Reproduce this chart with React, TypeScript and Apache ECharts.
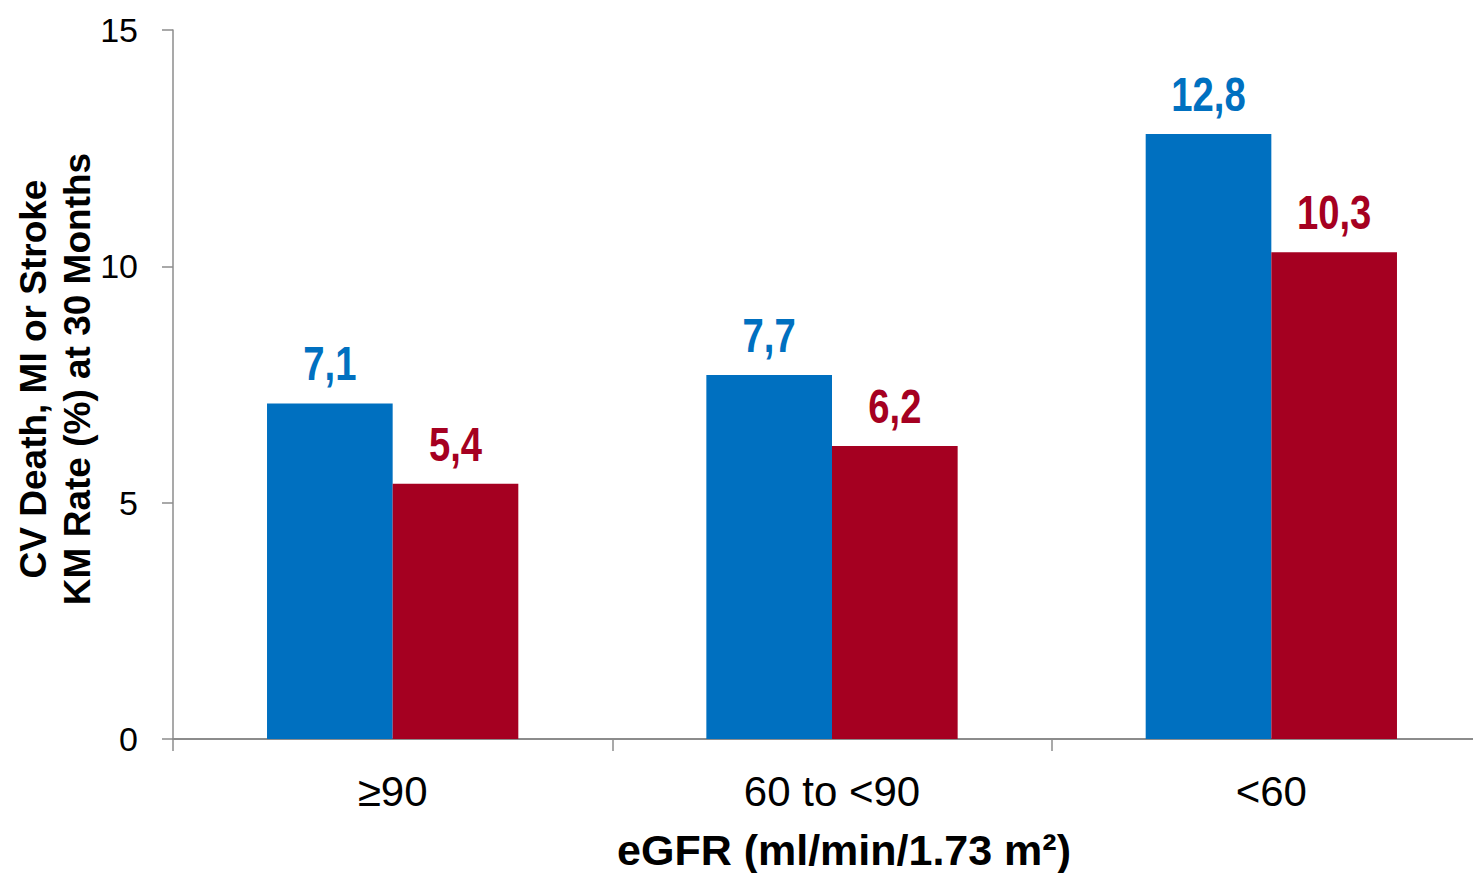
import React, { useEffect, useRef } from "react";
import * as echarts from "echarts";

const categories = ["≥90", "60 to <90", "<60"];
const seriesBlue = [7.1, 7.7, 12.8];
const seriesRed = [5.4, 6.2, 10.3];
const yTicks = [0, 5, 10, 15];
const xAxisTitle = "eGFR (ml/min/1.73 m²)";
const yAxisTitleLines = ["CV Death, MI or Stroke", "KM Rate (%) at 30 Months"];

const BLUE = "#0070C0";
const RED = "#A50021";
const AXIS = "#8c8c8c";
const FONT = "'Liberation Sans', Arial, sans-serif";
const BAR_FRAC = 0.286;

const fmt = (v: number) => v.toFixed(1).replace(".", ",");

function labelSeries(values: number[], color: string, side: number) {
  return {
    type: "custom",
    silent: true,
    z: 5,
    data: values.map((v, i) => [i, v]),
    renderItem: (_params: any, api: any) => {
      const idx = api.value(0);
      const val = api.value(1);
      const pt = api.coord([idx, val]);
      const catW = api.size([1, 0])[0];
      const off = (side * BAR_FRAC * catW) / 2;
      return {
        type: "text",
        x: pt[0] + off,
        y: pt[1] - 16,
        scaleX: 0.78,
        style: {
          text: fmt(val),
          fill: color,
          font: `bold 49px ${FONT}`,
          textAlign: "center",
          textVerticalAlign: "bottom",
        },
      };
    },
  };
}

export default function App() {
  const ref = useRef<HTMLDivElement>(null);
  useEffect(() => {
    if (!ref.current) return;
    const chart = echarts.init(ref.current, undefined, { renderer: "svg" });
    chart.setOption({
      animation: false,
      backgroundColor: "#ffffff",
      grid: {
        left: 173,
        top: 30,
        width: 1318,
        bottom: 134,
        containLabel: false,
        outerBoundsMode: "none",
      },
      xAxis: {
        type: "category",
        data: categories,
        axisLine: { show: true, lineStyle: { color: AXIS, width: 2 } },
        axisTick: { show: true, length: 12, lineStyle: { color: AXIS, width: 1.5 } },
        axisLabel: { color: "#000", fontFamily: FONT, fontSize: 42, margin: 31 },
      },
      yAxis: {
        type: "value",
        min: yTicks[0],
        max: yTicks[yTicks.length - 1],
        interval: 5,
        splitLine: { show: false },
        axisLine: { show: true, lineStyle: { color: AXIS, width: 1.5 } },
        axisTick: { show: true, length: 11, lineStyle: { color: AXIS, width: 1.5 } },
        axisLabel: { color: "#000", fontFamily: FONT, fontSize: 34, margin: 35 },
      },
      series: [
        {
          type: "bar",
          data: seriesBlue,
          barWidth: BAR_FRAC * 100 + "%",
          barGap: "0%",
          itemStyle: { color: BLUE },
        },
        {
          type: "bar",
          data: seriesRed,
          barWidth: BAR_FRAC * 100 + "%",
          itemStyle: { color: RED },
        },
        labelSeries(seriesBlue, BLUE, -1),
        labelSeries(seriesRed, RED, 1),
      ],
      graphic: [
        {
          type: "text",
          x: 844,
          y: 850,
          style: {
            text: xAxisTitle,
            fill: "#000",
            font: `bold 43px ${FONT}`,
            textAlign: "center",
            textVerticalAlign: "middle",
          },
        },
        {
          type: "text",
          x: 55,
          y: 379,
          rotation: Math.PI / 2,
          style: {
            text: yAxisTitleLines.join("\n"),
            fill: "#000",
            font: `bold 37px ${FONT}`,
            lineHeight: 44,
            textAlign: "center",
            textVerticalAlign: "middle",
          },
        },
      ],
    });
    return () => chart.dispose();
  }, []);
  return (
    <div
      ref={ref}
      style={{ position: "absolute", left: 0, top: 0, width: 1473, height: 873 }}
    />
  );
}
